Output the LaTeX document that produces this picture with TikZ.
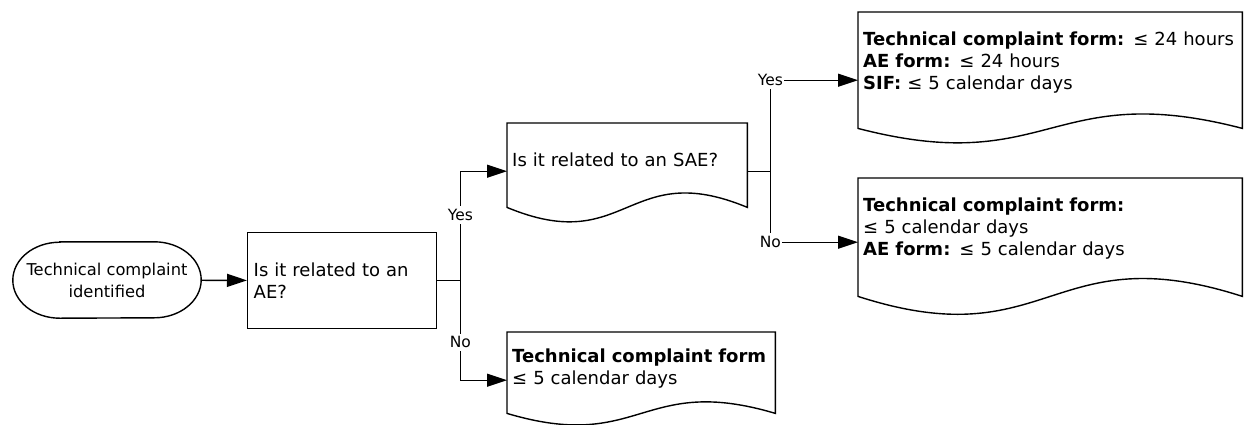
\documentclass[tikz,border=0pt]{standalone}
\usepackage{fontspec}
\setmainfont{DejaVu Sans}
\usetikzlibrary{arrows.meta,calc}

\tikzset{
  flowline/.style={line width=1.4pt},
  flowarrow/.style={flowline,-{Triangle[length=20pt,width=13pt]}},
  startbox/.style={minimum width=188pt,minimum height=76pt,align=center,inner sep=0pt,font=\fontsize{16.3}{22}\selectfont},
  askbox/.style={draw,line width=1.4pt,minimum height=96pt,text width=177pt,inner xsep=6pt,align=left,anchor=north west},
  docbox/.style={inner xsep=5pt,inner ysep=0pt,align=left,anchor=north west},
  branch/.style={fill=white,inner xsep=1pt,inner ysep=3pt,font=\fontsize{15.5}{18}\selectfont},
}

% outline of a document node: name, extra depth of the sides, wave height
\newcommand{\docoutline}[3]{%
  \draw[flowline] let \p1=(#1.south west), \p2=(#1.south east), \n1={\x2-\x1} in
    ($(#1.south west)+(0,-#2)$) -- (#1.north west) -- (#1.north east) -- ($(#1.south east)+(0,-#2)$)
    .. controls +(-0.5*\n1,#3) and +(0.5*\n1,-#3) .. ($(#1.south west)+(0,-#2)$) -- cycle;}

\begin{document}
\begin{tikzpicture}[x=1pt,y=1pt,font=\fontsize{18}{22}\selectfont]
\useasboundingbox (0,0) rectangle (1248,-424);

% nodes
\node[startbox] (start) at (107,-280) {Technical complaint\\identified};
\draw[flowline] ([xshift=47pt]start.north west) -- ([xshift=-47pt]start.north east)
  arc[start angle=90,end angle=-90,x radius=47pt,y radius=38pt]
  -- ([xshift=47pt]start.south west)
  arc[start angle=270,end angle=90,x radius=47pt,y radius=38pt] -- cycle;
\node[askbox] (askae) at (247,-232) {Is it related to an\\AE?};
\node[docbox,text width=230pt,minimum height=74pt] (asksae) at (507,-123) {Is it related to an SAE?};
\node[docbox,text width=374pt,minimum height=100pt] (yesdoc) at (858,-12)
  {\textbf{Technical complaint form:} ≤ 24 hours\\\textbf{AE form:} ≤ 24 hours\\\textbf{SIF:} ≤ 5 calendar days};
\node[docbox,text width=374pt,minimum height=100pt] (nodoc) at (858,-178)
  {\textbf{Technical complaint form:}\\≤ 5 calendar days\\\textbf{AE form:} ≤ 5 calendar days};
\node[docbox,text width=258pt,minimum height=72pt] (formdoc) at (507,-332)
  {\textbf{Technical complaint form}\\≤ 5 calendar days};

\docoutline{asksae}{10}{50}
\docoutline{yesdoc}{16}{50}
\docoutline{nodoc}{18}{62}
\docoutline{formdoc}{9}{40}

% connectors
\draw[flowarrow] (start) -- (askae);
\draw[flowline] (askae.east) -- ++(23,0) coordinate (aefork);
\draw[flowarrow] (aefork) |- node[branch,pos=0.3]{Yes} ([yshift=-11pt]asksae.west);
\draw[flowarrow] (aefork) |- node[branch,pos=0.31]{No} ([yshift=-12pt]formdoc.west);
\draw[flowline] ([yshift=-11pt]asksae.east) -- ++(23,0) coordinate (saefork);
\draw[flowarrow] (saefork) |- node[branch,pos=0.5]{Yes} ([yshift=-18pt]yesdoc.west);
\draw[flowarrow] (saefork) |- node[branch,pos=0.5]{No} ([yshift=-14pt]nodoc.west);
\end{tikzpicture}
\end{document}
